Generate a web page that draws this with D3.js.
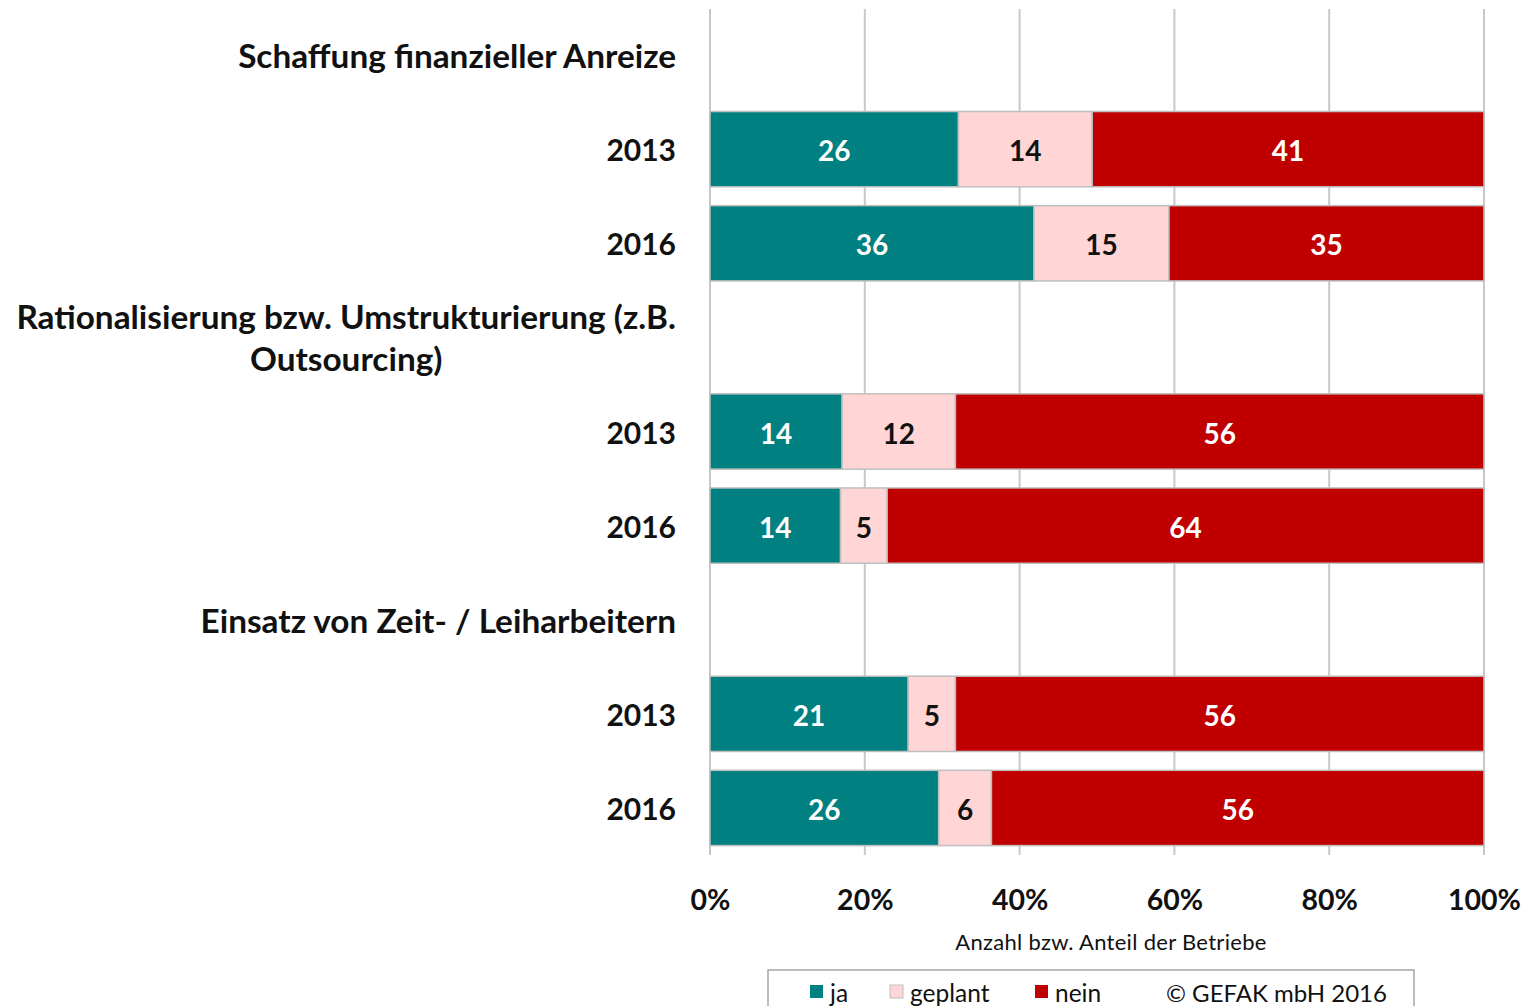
<!DOCTYPE html>
<html><head><meta charset="utf-8">
<script src="https://cdn.jsdelivr.net/npm/d3@7"></script>
<style>body{margin:0;background:#fff;} svg{display:block;}</style>
</head><body>
<svg id="chart" width="1527" height="1006"></svg>
<script>
const groups = ["Schaffung finanzieller Anreize", "Rationalisierung bzw. Umstrukturierung (z.B. Outsourcing)", "Einsatz von Zeit- / Leiharbeitern"];
const groupLines = [["Schaffung finanzieller Anreize"], ["Rationalisierung bzw. Umstrukturierung (z.B.", "Outsourcing)"], ["Einsatz von Zeit- / Leiharbeitern"]];
const years = ["2013", "2016"];
const seriesNames = ["ja", "geplant", "nein"];
const ja =      [[26, 36], [14, 14], [21, 26]];
const geplant = [[14, 15], [12, 5],  [5, 6]];
const nein =    [[41, 35], [56, 64], [56, 56]];
const tickLabels = ["0%", "20%", "40%", "60%", "80%", "100%"];
const axisTitle = "Anzahl bzw. Anteil der Betriebe";
const copyright = "© GEFAK mbH 2016";

const colors = {"ja": "#008080", "geplant": "#FFD5D5", "nein": "#C00000"};
const textColors = {"ja": "#fff", "geplant": "#111", "nein": "#fff"};
const FONT = "Lato, 'Open Sans', sans-serif";

// build rows
const rows = [];
groups.forEach((g, gi) => {
  rows.push({id: "h" + gi, header: true, gi});
  years.forEach((y, yi) => {
    const vals = [ja[gi][yi], geplant[gi][yi], nein[gi][yi]];
    rows.push({id: "r" + gi + "_" + yi, header: false, gi, year: y, vals});
  });
});

const svg = d3.select("#chart");
const x = d3.scaleLinear().domain([0, 1]).range([710, 1484]);
const y = d3.scaleBand().domain(rows.map(r => r.id)).range([8, 855]).paddingInner(0.2).paddingOuter(0.1);

// gridlines
svg.append("g").selectAll("line").data(d3.range(0, 1.0001, 0.2)).join("line")
  .attr("x1", d => x(d)).attr("x2", d => x(d))
  .attr("y1", 9).attr("y2", 855)
  .attr("stroke", "#c8c8c8").attr("stroke-width", 2);

// bars
const barRows = rows.filter(r => !r.header);
barRows.forEach(r => {
  const total = d3.sum(r.vals);
  let cum = 0;
  const segs = r.vals.map((v, i) => {
    const s = {name: seriesNames[i], v, x0: cum / total, x1: (cum + v) / total};
    cum += v;
    return s;
  });
  const g = svg.append("g");
  g.selectAll("rect").data(segs).join("rect")
    .attr("x", d => x(d.x0)).attr("width", d => x(d.x1) - x(d.x0))
    .attr("y", y(r.id)).attr("height", y.bandwidth())
    .attr("fill", d => colors[d.name])
    .attr("stroke", "#bfbfbf").attr("stroke-width", 1.5);
  g.selectAll("text").data(segs).join("text")
    .attr("x", d => (x(d.x0) + x(d.x1)) / 2)
    .attr("y", y(r.id) + y.bandwidth() / 2 + 1)
    .attr("text-anchor", "middle").attr("dominant-baseline", "central")
    .attr("font-family", FONT).attr("font-weight", "bold").attr("font-size", 28)
    .attr("fill", d => textColors[d.name])
    .text(d => d.v);
  // year label
  svg.append("text").attr("x", 676).attr("y", y(r.id) + y.bandwidth() / 2)
    .attr("text-anchor", "end").attr("dominant-baseline", "central")
    .attr("font-family", FONT).attr("font-weight", "bold").attr("font-size", 30)
    .attr("fill", "#111").text(r.year);
});

// header labels: size fitted so the first header spans the reference width
const probe = svg.append("text").attr("font-family", FONT).attr("font-weight", "bold")
  .attr("font-size", 30).text(groupLines[0][0]);
const headerSize = 30 * 438 / probe.node().getComputedTextLength();
probe.remove();

rows.filter(r => r.header).forEach(r => {
  const lines = groupLines[r.gi];
  const cy = y(r.id) + y.bandwidth() / 2;
  const lh = 42;
  const t0 = cy - (lines.length - 1) * lh / 2;
  const first = svg.append("text").attr("x", 676).attr("y", t0)
    .attr("text-anchor", "end").attr("dominant-baseline", "central")
    .attr("font-family", FONT).attr("font-weight", "bold").attr("font-size", headerSize)
    .attr("fill", "#111").text(lines[0]);
  if (lines.length > 1) {
    const w = first.node().getComputedTextLength();
    const center = 676 - w / 2;
    for (let i = 1; i < lines.length; i++) {
      svg.append("text").attr("x", center).attr("y", t0 + i * lh)
        .attr("text-anchor", "middle").attr("dominant-baseline", "central")
        .attr("font-family", FONT).attr("font-weight", "bold").attr("font-size", headerSize)
        .attr("fill", "#111").text(lines[i]);
    }
  }
});

// x axis tick labels
const axis = d3.axisBottom(x).tickValues(d3.range(0, 1.0001, 0.2))
  .tickFormat((d, i) => tickLabels[i]).tickSize(0).tickPadding(0);
const ax = svg.append("g").attr("transform", "translate(0,890)").call(axis);
ax.select(".domain").remove();
ax.selectAll("text").attr("font-family", FONT).attr("font-weight", "bold")
  .attr("font-size", 28.5).attr("fill", "#111");

// axis title
svg.append("text").attr("x", 1111).attr("y", 941)
  .attr("text-anchor", "middle").attr("dominant-baseline", "central")
  .attr("font-family", FONT).attr("font-size", 22).attr("fill", "#111")
  .attr("letter-spacing", 0.3).text(axisTitle);

// legend
const lg = svg.append("g");
lg.append("rect").attr("x", 768).attr("y", 970).attr("width", 646).attr("height", 50)
  .attr("fill", "#fff").attr("stroke", "#a6a6a6").attr("stroke-width", 1.5);
const legX = [810, 890, 1035];
seriesNames.forEach((n, i) => {
  lg.append("rect").attr("x", legX[i]).attr("y", 985).attr("width", 13).attr("height", 13)
    .attr("fill", colors[n]).attr("stroke", n === "geplant" ? "#bfbfbf" : "none");
  lg.append("text").attr("x", legX[i] + 20).attr("y", 992)
    .attr("dominant-baseline", "central")
    .attr("font-family", FONT).attr("font-size", 24.5).attr("fill", "#111").text(n);
});
lg.append("text").attr("x", 1166).attr("y", 992).attr("dominant-baseline", "central")
  .attr("font-family", FONT).attr("font-size", 24).attr("fill", "#111").text(copyright);
</script>
</body></html>
